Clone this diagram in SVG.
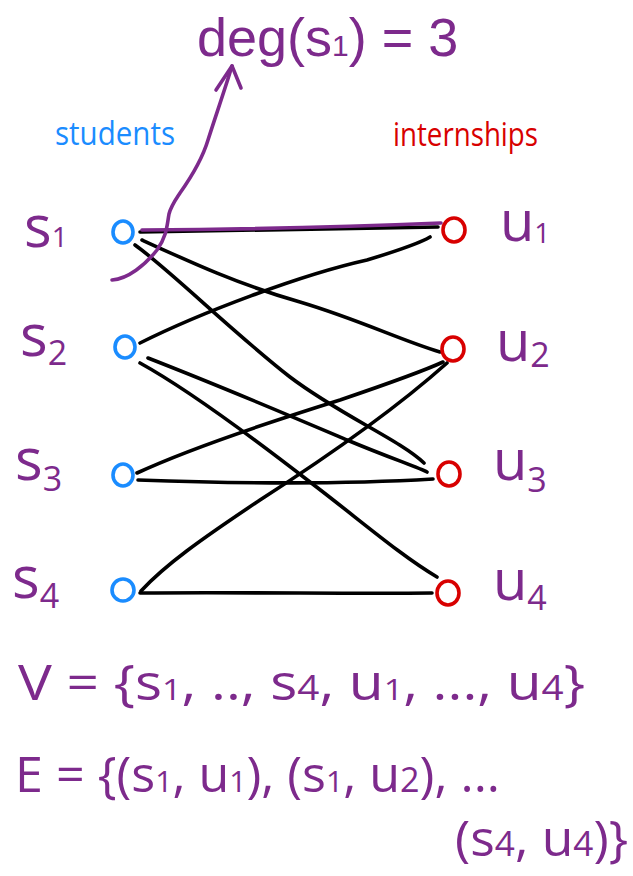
<svg xmlns="http://www.w3.org/2000/svg" width="633" height="876" viewBox="0 0 633 876">
<style>
.edge{fill:none;stroke:#000;stroke-width:3.6;stroke-linecap:round;stroke-linejoin:round}
.hl{fill:none;stroke:#7d2a8c;stroke-width:3.6;stroke-linecap:round;stroke-linejoin:round}
.snode{fill:none;stroke:#1a8cff;stroke-width:3.6}
.unode{fill:none;stroke:#d80000;stroke-width:3.6}
.lbl{font-family:"Open Sans","Liberation Sans",sans-serif;fill:#7d2a8c}
.head{font-family:"Open Sans","Liberation Sans",sans-serif;font-size:32px}
</style>
<rect width="633" height="876" fill="#fff"/>
<g id="connectors">
<path class="edge" d="M140,232 Q290,230 438,227"/>
<path class="edge" d="M142,240 C190,262 240,285 300,302 C360,320 400,340 440,352"/>
<path class="edge" d="M135,245 C170,270 230,330 290,377 C340,415 400,440 424,463"/>
<path class="edge" d="M140,343 C200,313 300,275 367,260 C400,250 420,243 430,237"/>
<path class="edge" d="M148,358 C230,390 300,420 347,440 C390,458 420,468 427,472"/>
<path class="edge" d="M140,363 C180,385 230,420 310,482 C360,520 400,555 437,577"/>
<path class="edge" d="M137,473 C180,453 260,425 340,400 C390,383 430,368 443,362"/>
<path class="edge" d="M138,480 C250,484 350,484 433,479"/>
<path class="edge" d="M141,591 C165,565 200,540 260,500 C330,455 400,405 447,363"/>
<path class="edge" d="M140,593 C250,592 350,594 432,593"/>
<path class="hl" d="M142,230 Q300,229 441,223"/>
<path class="hl" d="M112,280 C128,279 145,265 157,250 C167,236 167,225 169,214 C171,206 174,202 180,193 C192,176 202,160 208,140 C216,115 224,92 232,66"/>
<path class="hl" d="M216,90 L232,66 L241,88"/>
</g>
<g id="s1"><ellipse class="snode" cx="123" cy="232" rx="10" ry="11"/><text class="lbl" x="24" y="247" font-size="58">s<tspan font-size="28">1</tspan></text></g>
<g id="s2"><ellipse class="snode" cx="125" cy="347" rx="10" ry="11"/><text class="lbl" x="20" y="356" font-size="58">s<tspan font-size="34" dy="9">2</tspan></text></g>
<g id="s3"><ellipse class="snode" cx="123" cy="475" rx="10" ry="11"/><text class="lbl" x="15" y="480" font-size="58">s<tspan font-size="34" dy="11">3</tspan></text></g>
<g id="s4"><ellipse class="snode" cx="123" cy="590" rx="11" ry="11"/><text class="lbl" x="12" y="598" font-size="58">s<tspan font-size="34" dy="10">4</tspan></text></g>
<g id="u1"><ellipse class="unode" cx="454" cy="230" rx="11" ry="12"/><text class="lbl" x="500" y="241" font-size="56">u<tspan font-size="28" dy="2">1</tspan></text></g>
<g id="u2"><ellipse class="unode" cx="453" cy="349" rx="11" ry="12"/><text class="lbl" x="496" y="361" font-size="56">u<tspan font-size="34" dy="6">2</tspan></text></g>
<g id="u3"><ellipse class="unode" cx="449" cy="474" rx="11" ry="12"/><text class="lbl" x="493" y="480" font-size="56">u<tspan font-size="34" dy="12">3</tspan></text></g>
<g id="u4"><ellipse class="unode" cx="448" cy="593" rx="11" ry="12"/><text class="lbl" x="493" y="600" font-size="56">u<tspan font-size="34" dy="10">4</tspan></text></g>
<g id="students"><text class="head" x="55" y="145" fill="#1a8cff" textLength="120" lengthAdjust="spacingAndGlyphs">students</text></g>
<g id="internships"><text class="head" x="393" y="146" fill="#d80000" textLength="145" lengthAdjust="spacingAndGlyphs">internships</text></g>
<g id="degree"><text class="lbl" x="197" y="56" font-size="54" style="font-family:'Liberation Sans',sans-serif">deg(s<tspan font-size="30">1</tspan>) = 3</text></g>
<g id="vertex-set"><text class="lbl" x="18" y="700" font-size="50" textLength="567" lengthAdjust="spacingAndGlyphs">V = {s<tspan font-size="30">1</tspan>, .., s<tspan font-size="34">4</tspan>, u<tspan font-size="30">1</tspan>, ..., u<tspan font-size="34">4</tspan>}</text></g>
<g id="edge-set"><text class="lbl" x="15" y="792" font-size="50" textLength="485" lengthAdjust="spacingAndGlyphs">E = {(s<tspan font-size="30">1</tspan>, u<tspan font-size="30">1</tspan>), (s<tspan font-size="30">1</tspan>, u<tspan font-size="34">2</tspan>), ...</text>
<text class="lbl" x="455" y="856" font-size="50" textLength="173" lengthAdjust="spacingAndGlyphs">(s<tspan font-size="34">4</tspan>, u<tspan font-size="34">4</tspan>)}</text></g>
</svg>
